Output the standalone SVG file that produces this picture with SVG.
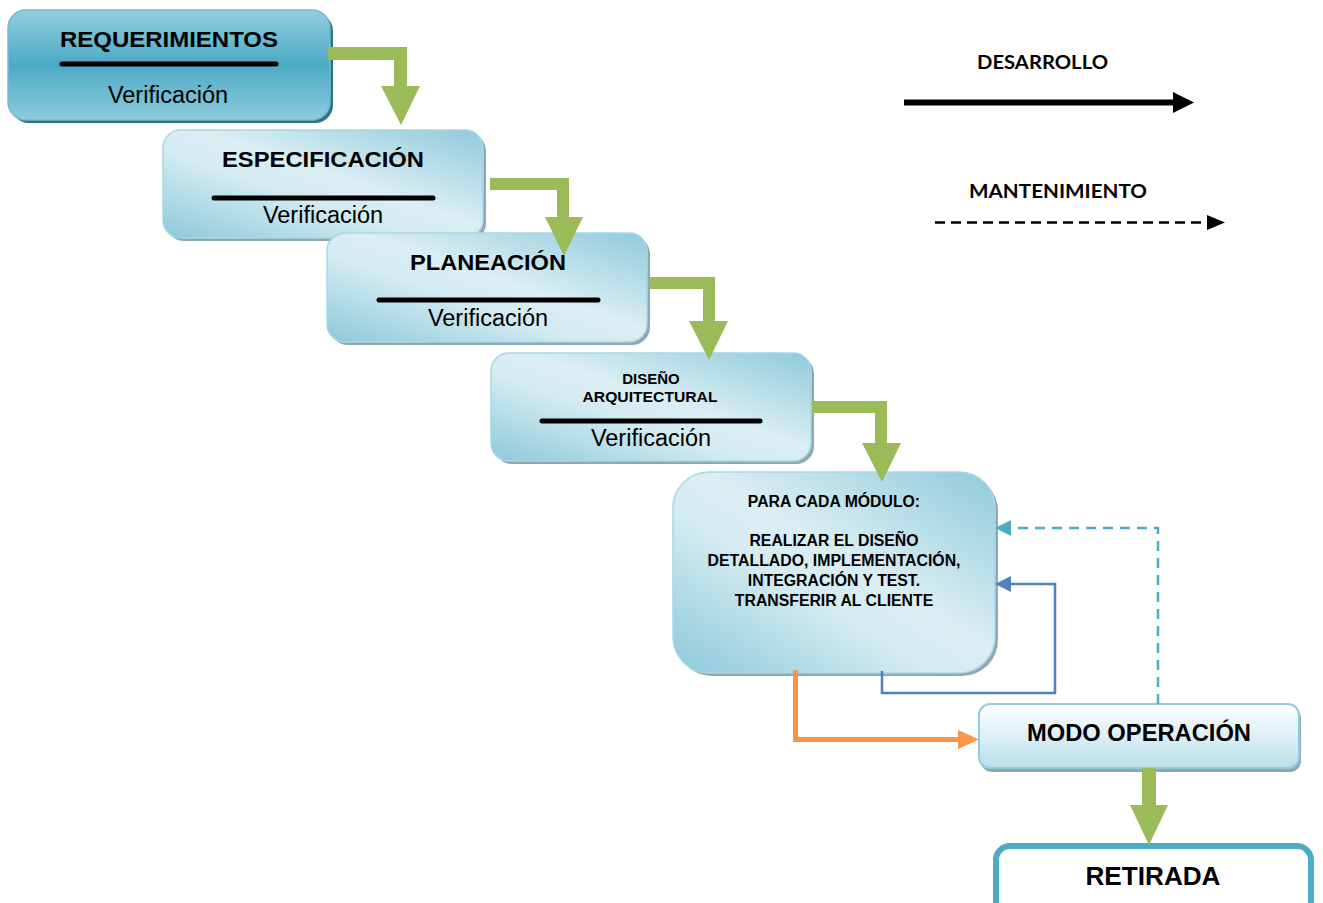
<svg xmlns="http://www.w3.org/2000/svg" width="1323" height="903" viewBox="0 0 1323 903">
<defs>
<linearGradient id="gDark" x1="0" y1="0" x2="0" y2="1">
<stop offset="0" stop-color="#93CEDE"/>
<stop offset="0.5" stop-color="#4BAAC5"/>
<stop offset="1" stop-color="#8FCBDC"/>
</linearGradient>
<linearGradient id="gLight" x1="1" y1="0" x2="0" y2="1">
<stop offset="0" stop-color="#8FCADB"/>
<stop offset="0.45" stop-color="#DBEEF4"/>
<stop offset="0.6" stop-color="#D3EBF2"/>
<stop offset="1" stop-color="#8CC9DA"/>
</linearGradient>
<linearGradient id="gOp" x1="0" y1="0" x2="0" y2="1">
<stop offset="0" stop-color="#FFFFFF"/>
<stop offset="1" stop-color="#B9DFEA"/>
</linearGradient>
<style>
.sh{fill:#8FA8B0}
.shd{fill:#2E7388}
.bx{fill:url(#gLight);stroke:#A8D7E4;stroke-width:1.5}
.b{font-family:"Liberation Sans",Arial,sans-serif;font-weight:bold;fill:#000;text-anchor:middle}
.r{font-family:"Liberation Sans",Arial,sans-serif;fill:#000;text-anchor:middle}
.lg{font-family:Lato,"Liberation Sans",sans-serif;font-weight:bold;fill:#000}
.bar{stroke:#000;stroke-width:5;stroke-linecap:round}
.grn{fill:#9BBB59}
</style>
</defs>
<rect width="1323" height="903" fill="#FFFFFF"/>

<g id="requerimientos">
<rect class="shd" x="11" y="13" width="322" height="110" rx="18"/>
<rect x="8" y="10" width="322" height="110" rx="18" fill="url(#gDark)" stroke="#6FBCD2" stroke-width="1.5"/>
<text class="b" x="169" y="47" font-size="22" textLength="218" lengthAdjust="spacingAndGlyphs">REQUERIMIENTOS</text>
<line class="bar" x1="62" y1="64" x2="276" y2="64" stroke-linecap="butt"/>
<text class="r" x="168" y="103" font-size="23.5">Verificación</text>
</g>

<g id="especificacion">
<rect class="sh" x="166" y="133" width="320" height="108" rx="18"/>
<rect class="bx" x="163" y="130" width="320" height="108" rx="18"/>
<text class="b" x="323" y="167" font-size="22" textLength="202" lengthAdjust="spacingAndGlyphs">ESPECIFICACIÓN</text>
<line class="bar" x1="214" y1="198" x2="433" y2="198"/>
<text class="r" x="323" y="223" font-size="23.5">Verificación</text>
</g>

<g id="planeacion">
<rect class="sh" x="330" y="236" width="320" height="109" rx="18"/>
<rect class="bx" x="327" y="233" width="320" height="109" rx="18"/>
<text class="b" x="488" y="270" font-size="22" textLength="156" lengthAdjust="spacingAndGlyphs">PLANEACIÓN</text>
<line class="bar" x1="379" y1="300" x2="598" y2="300"/>
<text class="r" x="488" y="326" font-size="23.5">Verificación</text>
</g>

<g id="diseno">
<rect class="sh" x="494" y="356" width="320" height="108" rx="18"/>
<rect class="bx" x="491" y="353" width="320" height="108" rx="18"/>
<text class="b" x="651" y="384" font-size="15">DISEÑO</text>
<text class="b" x="650" y="402" font-size="15" textLength="135" lengthAdjust="spacingAndGlyphs">ARQUITECTURAL</text>
<line class="bar" x1="542" y1="421" x2="760" y2="421"/>
<text class="r" x="651" y="446" font-size="23.5">Verificación</text>
</g>

<g id="modulo">
<rect class="sh" x="676" y="475" width="322" height="201" rx="36"/>
<rect class="bx" x="673" y="472" width="322" height="201" rx="36"/>
<text class="b" x="834" y="507" font-size="15.8">PARA CADA MÓDULO:</text>
<text class="b" x="834" y="546" font-size="15.8">REALIZAR EL DISEÑO</text>
<text class="b" x="834" y="566" font-size="15.8" textLength="253" lengthAdjust="spacingAndGlyphs">DETALLADO, IMPLEMENTACIÓN,</text>
<text class="b" x="834" y="586" font-size="15.8">INTEGRACIÓN Y TEST.</text>
<text class="b" x="834" y="606" font-size="15.8">TRANSFERIR AL CLIENTE</text>
</g>

<g id="operacion">
<rect class="sh" x="981" y="707" width="320" height="65" rx="11"/>
<rect x="979" y="704" width="320" height="64" rx="11" fill="url(#gOp)" stroke="#93CDDD" stroke-width="2"/>
<text class="b" x="1139" y="741" font-size="23" textLength="224" lengthAdjust="spacingAndGlyphs">MODO OPERACIÓN</text>
</g>

<g id="retirada">
<rect x="996" y="846" width="315" height="80" rx="14" fill="#FFFFFF" stroke="#4BACC6" stroke-width="6"/>
<text class="b" x="1153" y="885" font-size="26" textLength="135" lengthAdjust="spacingAndGlyphs">RETIRADA</text>
</g>

<g id="leyenda">
<text class="lg" x="977" y="69" font-size="19" textLength="131" lengthAdjust="spacingAndGlyphs">DESARROLLO</text>
<line x1="904" y1="102.5" x2="1176" y2="102.5" stroke="#000" stroke-width="6"/>
<polygon points="1173,92 1194,102.5 1173,113" fill="#000"/>
<text class="lg" x="969" y="198" font-size="19" textLength="178" lengthAdjust="spacingAndGlyphs">MANTENIMIENTO</text>
<line x1="935" y1="222.5" x2="1209" y2="222.5" stroke="#000" stroke-width="2.5" stroke-dasharray="10,6"/>
<polygon points="1207,215 1225,222.5 1207,230" fill="#000"/>
</g>

<g id="conectores">
<polygon class="grn" points="328,47 407,47 407,86 420,86 401,125 381,86 394,86 394,60 328,60"/>
<polygon class="grn" points="490,178 569,178 569,217 583,217 564,256 545,217 557,217 557,190 490,190"/>
<polygon class="grn" points="649,277 715,277 715,321 728,321 709,360 689,321 703,321 703,289 649,289"/>
<polygon class="grn" points="812,401 887,401 887,443 901,443 882,482 862,443 875,443 875,413 812,413"/>
<polygon class="grn" points="1142,768 1156,768 1156,805 1168,805 1149,845 1130,805 1142,805"/>
<polyline points="795.5,670 795.5,739.5 960,739.5" fill="none" stroke="#F79646" stroke-width="5"/>
<polygon points="958,730 979,739.5 958,749" fill="#F79646"/>
<polyline points="882,671 882,693 1055,693 1055,584 1009,584" fill="none" stroke="#4F81BD" stroke-width="2.5"/>
<polygon points="1011,576 995,584 1011,592" fill="#4F81BD"/>
<polyline points="1158,704 1158,528 1009,528" fill="none" stroke="#4BACC6" stroke-width="2.5" stroke-dasharray="10,7"/>
<polygon points="1011,520 995,528 1011,536" fill="#4BACC6"/>
</g>
</svg>
